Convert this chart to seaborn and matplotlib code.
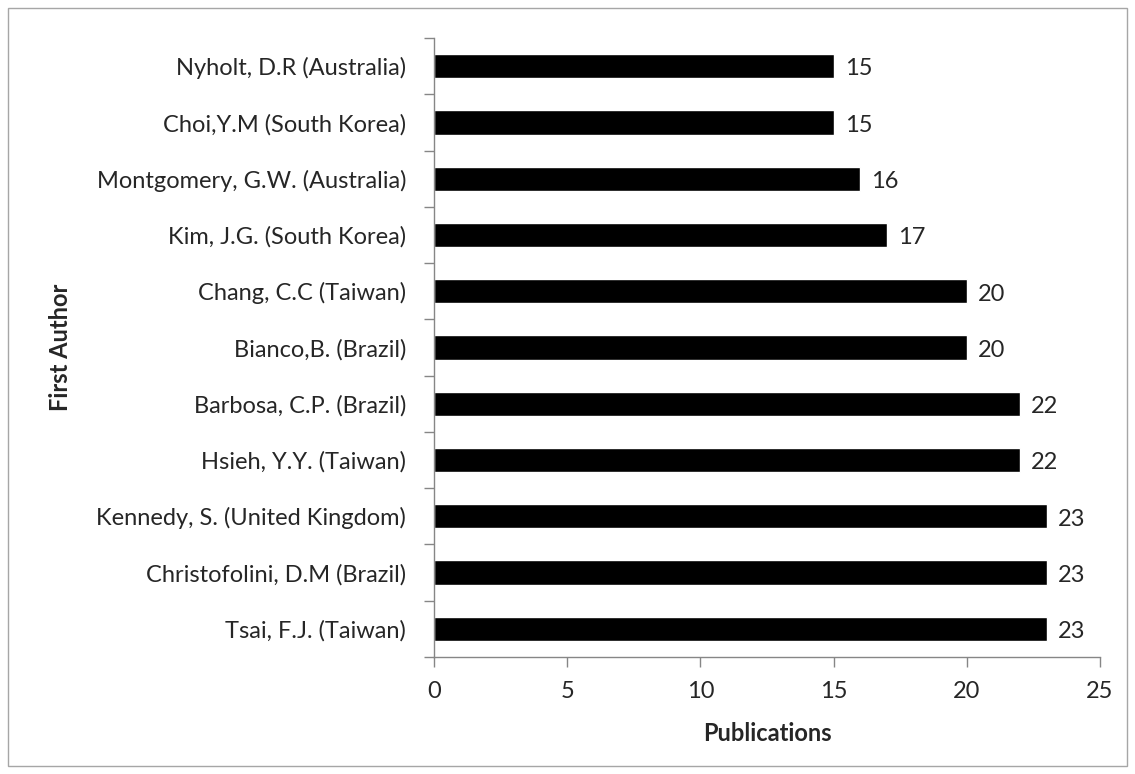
import matplotlib
matplotlib.use('Agg')
import matplotlib.pyplot as plt
import seaborn as sns
import pandas as pd
from matplotlib.patches import Rectangle


# Data (top to bottom as in the chart)
authors = [
    'Nyholt, D.R (Australia)',
    'Choi,Y.M (South Korea)',
    'Montgomery, G.W. (Australia)',
    'Kim, J.G. (South Korea)',
    'Chang, C.C (Taiwan)',
    'Bianco,B. (Brazil)',
    'Barbosa, C.P. (Brazil)',
    'Hsieh, Y.Y. (Taiwan)',
    'Kennedy, S. (United Kingdom)',
    'Christofolini, D.M (Brazil)',
    'Tsai, F.J. (Taiwan)',
]
publications = [15, 15, 16, 17, 20, 20, 22, 22, 23, 23, 23]
x_ticks = [0, 5, 10, 15, 20, 25]

df = pd.DataFrame({'author': authors, 'publications': publications})

sns.set_style('white')
plt.rcParams['font.family'] = ['Lato', 'DejaVu Sans']
fs = 17

fig = plt.figure(figsize=(11.35, 7.74), dpi=100)
ax = fig.add_axes([434 / 1135, 1 - 657 / 774, (1100 - 434) / 1135, (657 - 38) / 774])

sns.barplot(data=df, x='publications', y='author', color='black',
            width=0.43, ax=ax, saturation=1)

# value labels, sitting a touch below the bar centre like excel does
for t in ax.bar_label(ax.containers[0], padding=8, fontsize=fs):
    t.set_verticalalignment('center')
    t.set_y(t.get_position()[1])
    t.xyann = (t.xyann[0], -2)

# axes styling - excel look
gray = '#868686'
ax.set_xlim(0, 25)
ax.set_xticks(x_ticks)
ax.set_ylim(10.5, -0.5)
ax.set_yticks(range(len(authors)))
ax.set_yticklabels(authors)
ax.set_yticks([i - 0.5 for i in range(len(authors) + 1)], minor=True)
ax.tick_params(axis='y', which='major', length=0, pad=20, labelsize=fs)
ax.tick_params(axis='y', which='minor', length=7, color=gray, width=1, left=True)
ax.tick_params(axis='x', length=7, color=gray, width=1, bottom=True,
               pad=10, labelsize=fs)

for s in ['top', 'right']:
    ax.spines[s].set_visible(False)
for s in ['left', 'bottom']:
    ax.spines[s].set_color(gray)
    ax.spines[s].set_linewidth(1)

ax.set_xlabel('Publications', fontsize=fs, fontweight='bold', labelpad=15)
ax.set_ylabel('First Author', fontsize=fs, fontweight='bold')
ax.yaxis.set_label_coords(-(434 - 72) / 666, 0.5, transform=ax.transAxes)

# outer chart border
fig.patches.append(Rectangle((8 / 1135, 8 / 774), 1119 / 1135, 758 / 774,
                             transform=fig.transFigure, fill=False,
                             edgecolor='#A6A6A6', linewidth=1))

fig.savefig('out.png', dpi=100)
